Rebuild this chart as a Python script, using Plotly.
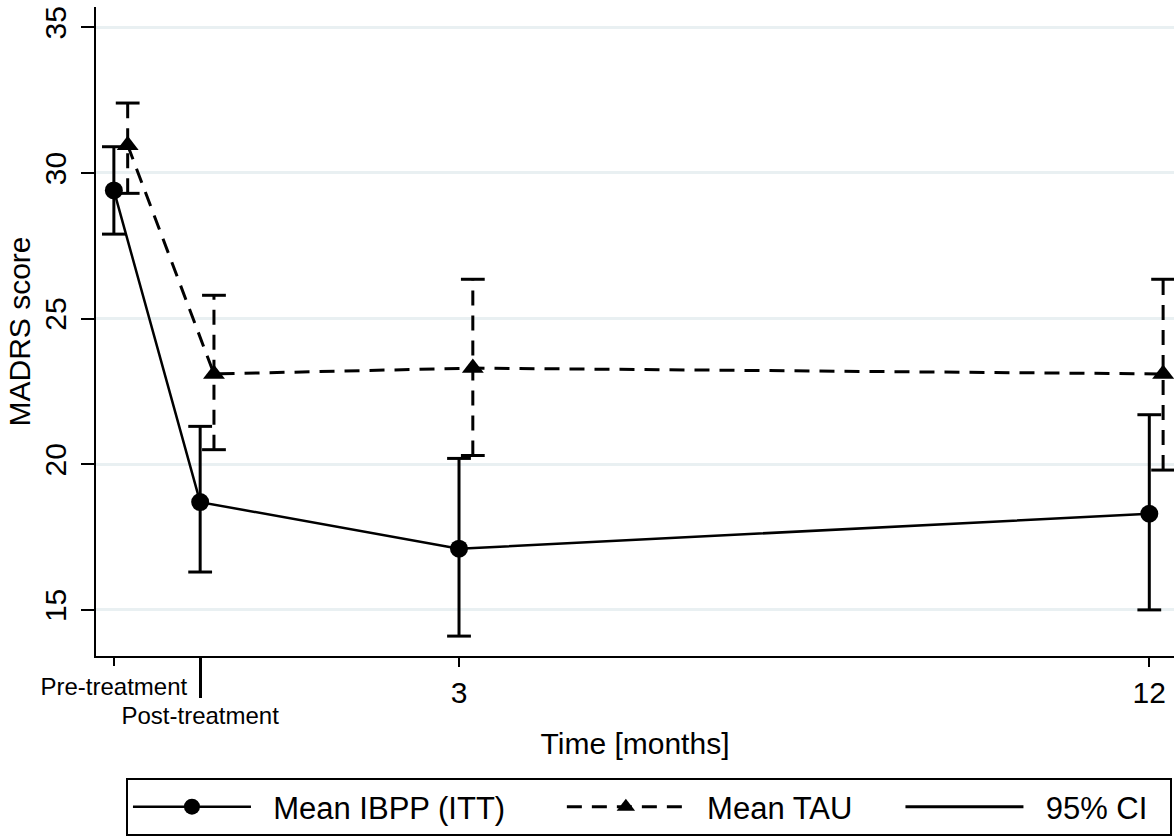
import plotly.graph_objects as go

# ---- data ----
time_labels = ["Pre-treatment", "Post-treatment", "3", "12"]
time_pos = [-1.5, -0.375, 3, 12]          # position on the time axis
tau_shift = 0.18                           # TAU drawn slightly right of IBPP

ibpp_mean = [29.4, 18.7, 17.1, 18.3]
ibpp_lo = [27.9, 16.3, 14.1, 15.0]
ibpp_hi = [30.9, 21.3, 20.2, 21.7]

tau_mean = [30.95, 23.1, 23.3, 23.1]
tau_lo = [29.3, 20.5, 20.3, 19.8]
tau_hi = [32.4, 25.8, 26.35, 26.35]

y_ticks = [15, 20, 25, 30, 35]

series_names = ["Mean IBPP (ITT)", "Mean TAU", "95% CI"]

FONT = "Liberation Sans, Arial, sans-serif"
NB = "\u00a0"
tau_pos = [p + tau_shift for p in time_pos]


def segments(xs, lo, hi):
    sx, sy = [], []
    for x, a, b in zip(xs, lo, hi):
        sx += [x, x, None]
        sy += [a, b, None]
    return sx, sy


def caps(xs, lo, hi):
    cx, cy = [], []
    for x, a, b in zip(xs, lo, hi):
        cx += [x, x]
        cy += [a, b]
    return cx, cy


def legend_name(s, trail):
    return NB * 2 + s + NB * trail


fig = go.Figure()

# means
fig.add_trace(go.Scatter(
    x=time_pos, y=ibpp_mean, mode="lines+markers", name=legend_name(series_names[0], 6),
    line=dict(color="black", width=2.5),
    marker=dict(symbol="circle", size=18, color="black"),
))
fig.add_trace(go.Scatter(
    x=tau_pos, y=tau_mean, mode="lines+markers", name=legend_name(series_names[1], 5),
    line=dict(color="black", width=3, dash="15px,10px"),
    marker=dict(symbol="triangle-up", size=19, color="black"),
))

# IBPP CI (solid) -> legend "95% CI"
sx, sy = segments(time_pos, ibpp_lo, ibpp_hi)
fig.add_trace(go.Scatter(
    x=sx, y=sy, mode="lines", name=legend_name(series_names[2], 2),
    line=dict(color="black", width=3), connectgaps=False,
))
cx, cy = caps(time_pos, ibpp_lo, ibpp_hi)
fig.add_trace(go.Scatter(
    x=cx, y=cy, mode="markers", showlegend=False,
    marker=dict(symbol="line-ew", size=17, line=dict(color="black", width=3)),
))

# TAU CI (dashed)
sx, sy = segments(tau_pos, tau_lo, tau_hi)
fig.add_trace(go.Scatter(
    x=sx, y=sy, mode="lines", showlegend=False,
    line=dict(color="black", width=3, dash="15px,10px"), connectgaps=False,
))
cx, cy = caps(tau_pos, tau_lo, tau_hi)
fig.add_trace(go.Scatter(
    x=cx, y=cy, mode="markers", showlegend=False,
    marker=dict(symbol="line-ew", size=17, line=dict(color="black", width=3)),
))

# helper traces so the overlay axes are drawn
fig.add_trace(go.Scatter(x=[], y=[], xaxis="x2", showlegend=False, hoverinfo="skip"))
fig.add_trace(go.Scatter(x=[], y=[], xaxis="x3", showlegend=False, hoverinfo="skip"))

xr = [-1.733, 12.322]

fig.update_layout(
    width=1174, height=836,
    margin=dict(l=96, r=0, t=7, b=180, autoexpand=False),
    paper_bgcolor="white", plot_bgcolor="white",
    font=dict(family=FONT, color="black", size=30),
    showlegend=True,
    legend=dict(
        orientation="h", x=0.0278, y=-0.188, xanchor="left", yanchor="top",
        bordercolor="black", borderwidth=2, bgcolor="white",
        font=dict(size=31, family=FONT), itemwidth=118,
        traceorder="normal",
    ),
    xaxis=dict(
        range=xr, tickmode="array", tickvals=time_pos[2:], ticktext=time_labels[2:],
        ticks="outside", ticklen=9, tickwidth=2, tickcolor="black",
        showline=True, linecolor="black", linewidth=2, showgrid=False, zeroline=False,
        tickfont=dict(size=30), automargin=False,
        title=dict(text="Time [months]", font=dict(size=30), standoff=25),
    ),
    xaxis2=dict(
        range=xr, overlaying="x", anchor="y", side="bottom",
        tickmode="array", tickvals=[time_pos[1]], ticktext=[time_labels[1]],
        ticks="outside", ticklen=41, tickwidth=2.5, tickcolor="black", automargin=False,
        ticklabelstandoff=-3,
        showline=False, showgrid=False, zeroline=False, tickfont=dict(size=24),
    ),
    xaxis3=dict(
        range=xr, overlaying="x", anchor="y", side="bottom",
        tickmode="array", tickvals=[time_pos[0]], ticktext=[time_labels[0]],
        ticks="outside", ticklen=9, tickwidth=1.5, tickcolor="black", automargin=False,
        showline=False, showgrid=False, zeroline=False, tickfont=dict(size=24),
    ),
    yaxis=dict(
        range=[13.417, 35.697], tickmode="array", tickvals=y_ticks,
        ticks="outside", ticklen=13, tickwidth=2, tickcolor="black",
        tickangle=-90, tickfont=dict(size=30), automargin=False,
        ticklabelstandoff=3,
        showline=True, linecolor="black", linewidth=2,
        showgrid=True, gridcolor="#e9f0f2", gridwidth=2.5, zeroline=False,
        title=dict(text="MADRS score", font=dict(size=30), standoff=0),
    ),
)

fig.write_html("out.html", config={"displayModeBar": False},
               post_script="document.body.style.margin='0px';")
